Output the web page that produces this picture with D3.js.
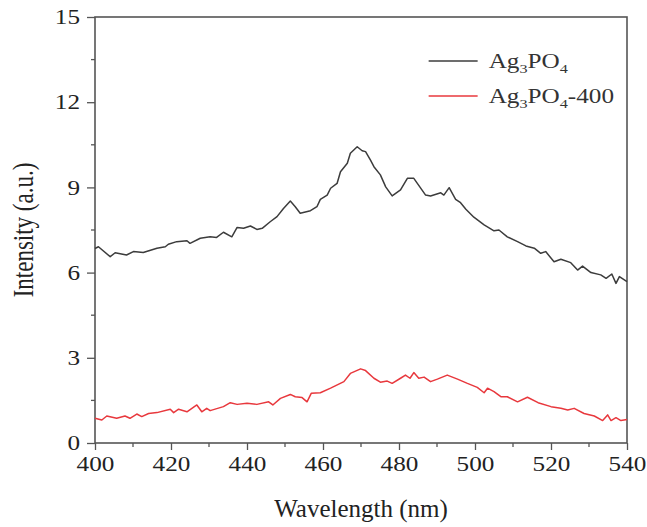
<!DOCTYPE html>
<style>
body { margin: 0; background: #fff; }
</style>
<svg width="647" height="527"></svg>
<script src="https://d3js.org/d3.v7.min.js"></script>
<script>

// Ag3PO4 spectrum
var wlBlack = [400, 400.9, 404, 405.3, 408.3, 410.1, 412.7, 416.3, 418.5, 419.3, 421.5, 424.2, 425, 427.7, 430.3, 432, 433.8, 436, 437.4, 439.1, 440.9, 442.6, 444, 446.1, 447.9, 449.6, 451.4, 452.7, 454, 456.7, 458.4, 459.3, 461.1, 462, 463.7, 464.6, 466.4, 467.2, 469, 470.3, 471.2, 472.5, 473.4, 475.1, 476.5, 478.2, 480.4, 482.2, 483.9, 487, 488.3, 491, 491.8, 493.2, 494.9, 496.2, 497.6, 499.7, 502.4, 505, 506.3, 508.5, 511.2, 513.4, 515.6, 517.3, 518.6, 520.8, 522.6, 525.2, 527, 528.3, 530.5, 533.1, 534.5, 536, 537.1, 538, 540];
var valBlack = [6.85, 6.91, 6.56, 6.7, 6.62, 6.74, 6.71, 6.86, 6.91, 7.0, 7.09, 7.12, 7.03, 7.21, 7.26, 7.24, 7.42, 7.26, 7.59, 7.56, 7.64, 7.52, 7.56, 7.79, 7.97, 8.26, 8.52, 8.32, 8.09, 8.18, 8.32, 8.58, 8.73, 8.97, 9.14, 9.55, 9.85, 10.2, 10.43, 10.29, 10.26, 9.96, 9.73, 9.44, 9.02, 8.7, 8.91, 9.32, 9.32, 8.73, 8.7, 8.81, 8.73, 8.99, 8.58, 8.46, 8.23, 7.95, 7.68, 7.47, 7.5, 7.26, 7.09, 6.94, 6.86, 6.68, 6.74, 6.38, 6.47, 6.35, 6.09, 6.23, 6.0, 5.92, 5.8, 5.95, 5.62, 5.86, 5.68];

// Ag3PO4-400 spectrum
var wlRed = [400, 401.8, 403.1, 405.7, 407.9, 409.2, 411, 412.3, 414.1, 416.3, 419.8, 420.7, 422, 424.2, 426.8, 428.1, 429.4, 430.3, 433.8, 435.6, 437.4, 440, 442.6, 445.7, 446.8, 448.8, 451.4, 452.7, 454.5, 455.8, 456.9, 459.3, 462, 465.5, 467.2, 469.9, 471.2, 473.4, 475.1, 476.9, 478.2, 480.4, 481.7, 482.9, 483.9, 485.2, 486.6, 488.3, 490.1, 492.7, 495.4, 498, 500.6, 502.4, 503.3, 505, 506.8, 508.5, 511.2, 513.8, 516.6, 520, 522.6, 524.4, 526.1, 528.7, 531.4, 533.6, 534.9, 535.8, 537.1, 538.4, 540];
var valRed = [0.87, 0.81, 0.95, 0.87, 0.95, 0.87, 1.02, 0.93, 1.04, 1.07, 1.19, 1.07, 1.19, 1.1, 1.34, 1.1, 1.22, 1.14, 1.28, 1.42, 1.36, 1.4, 1.36, 1.45, 1.34, 1.57, 1.71, 1.63, 1.6, 1.45, 1.75, 1.77, 1.93, 2.16, 2.45, 2.61, 2.55, 2.28, 2.14, 2.18, 2.1, 2.28, 2.39, 2.28, 2.48, 2.28, 2.32, 2.16, 2.25, 2.39, 2.25, 2.1, 1.96, 1.77, 1.93, 1.81, 1.63, 1.63, 1.45, 1.61, 1.42, 1.28, 1.22, 1.16, 1.22, 1.04, 0.95, 0.79, 0.99, 0.79, 0.89, 0.79, 0.83];

var xTicks = [400, 420, 440, 460, 480, 500, 520, 540];
var yTicks = [0, 3, 6, 9, 12, 15];

var series = [
  {suffix: "", wl: wlBlack, val: valBlack, color: "#3c3c3c"},
  {suffix: "-400", wl: wlRed, val: valRed, color: "#e8383d"}
];

var svg = d3.select("svg"),
    margin = {top: 17, right: 20, bottom: 84, left: 95},
    width = +svg.attr("width") - margin.left - margin.right,
    height = +svg.attr("height") - margin.top - margin.bottom,
    g = svg.append("g").attr("transform", "translate(" + margin.left + "," + margin.top + ")");

var x = d3.scaleLinear().domain([400, 540]).range([0, width]);
var y = d3.scaleLinear().domain([0, 15]).range([height, 0]);

var axisColor = "#555";
var font = "Liberation Serif, Times New Roman, serif";
var sx = 1.2; // the original text is a bit wide

// minor ticks
var xMinor = d3.range(410, 540, 20);
var yMinor = d3.range(1.5, 15, 3);

g.append("g").selectAll("line").data(xMinor).enter().append("line")
    .attr("x1", x).attr("x2", x).attr("y1", height).attr("y2", height + 4)
    .attr("stroke", axisColor).attr("stroke-width", 1.3);
g.append("g").selectAll("line").data(yMinor).enter().append("line")
    .attr("y1", y).attr("y2", y).attr("x1", 0).attr("x2", -4)
    .attr("stroke", axisColor).attr("stroke-width", 1.3);

var xAxis = g.append("g")
    .attr("transform", "translate(0," + height + ")")
    .call(d3.axisBottom(x).tickValues(xTicks).tickSize(7).tickPadding(6).tickSizeOuter(0));
var yAxis = g.append("g")
    .call(d3.axisLeft(y).tickValues(yTicks).tickSize(8).tickPadding(7).tickSizeOuter(0));

[xAxis, yAxis].forEach(function(a) {
  a.select(".domain").remove();
  a.selectAll("line").attr("stroke", axisColor).attr("stroke-width", 1.3);
  a.selectAll("text").attr("font-family", font).attr("font-size", 21).attr("fill", "#222");
});
xAxis.selectAll("text").attr("transform", "scale(" + sx + ",1)");
yAxis.selectAll("text")
    .attr("x", -15 / sx)
    .attr("transform", "scale(" + sx + ",1)");

// frame
g.append("rect")
    .attr("width", width).attr("height", height)
    .attr("fill", "none").attr("stroke", axisColor).attr("stroke-width", 1.6);

var line = d3.line()
    .x(function(d) { return x(d[0]); })
    .y(function(d) { return y(d[1]); });

series.forEach(function(s) {
  g.append("path")
      .datum(d3.zip(s.wl, s.val))
      .attr("fill", "none")
      .attr("stroke", s.color)
      .attr("stroke-width", 1.5)
      .attr("stroke-linejoin", "round")
      .attr("d", line);
});

// legend
var legend = g.selectAll(".legend").data(series).enter().append("g")
    .attr("transform", function(d, i) { return "translate(" + x(487.8) + "," + (44 + i * 35) + ")"; });

legend.append("line")
    .attr("x1", 0).attr("x2", 49)
    .attr("stroke", function(d) { return d.color; })
    .attr("stroke-width", 1.5);

var lt = legend.append("text")
    .attr("transform", "translate(60,0) scale(" + sx + ",1)")
    .attr("dy", "0.35em")
    .attr("font-family", font)
    .attr("font-size", 21)
    .attr("fill", "#333");
lt.append("tspan").text("Ag");
lt.append("tspan").attr("font-size", 13.5).attr("dy", 5).text("3");
lt.append("tspan").attr("dy", -5).text("PO");
lt.append("tspan").attr("font-size", 13.5).attr("dy", 5).text("4");
lt.append("tspan").attr("dy", -5).text(function(d) { return d.suffix; });

// axis titles
svg.append("text")
    .attr("x", margin.left + width / 2)
    .attr("y", 517)
    .attr("text-anchor", "middle")
    .attr("font-family", font)
    .attr("font-size", 25)
    .attr("fill", "#222")
    .text("Wavelength (nm)");

svg.append("text")
    .attr("transform", "translate(33," + (margin.top + height / 2) + ") scale(1.25,1) rotate(-90)")
    .attr("text-anchor", "middle")
    .attr("font-family", font)
    .attr("font-size", 23)
    .attr("fill", "#222")
    .text("Intensity (a.u.)");

</script>
